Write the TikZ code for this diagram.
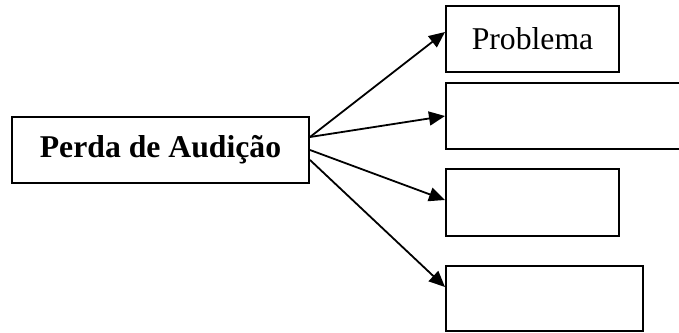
\documentclass[tikz,border=0pt]{standalone}
\usepackage{fontspec}
\setmainfont{Liberation Serif}
\usetikzlibrary{arrows.meta}
\begin{document}
\begin{tikzpicture}[x=1pt,y=-1pt,
  box/.style={draw, rectangle, line width=2pt, inner sep=0pt, font=\fontsize{31.7}{36}\selectfont},
  conn/.style={line width=1.8pt, -{Triangle[length=16pt,width=14pt]}}]
\clip (0,0) rectangle (679,332);
\fill[white] (0,0) rectangle (679,332);
\node[box, minimum width=297pt, minimum height=66pt, font=\fontsize{31.7}{36}\selectfont\bfseries] (main) at (160.5,150) {Perda de Audição};
\node[box, minimum width=173pt, minimum height=66pt] (b1) at (532.5,39) {Problema};
\node[box, minimum width=240pt, minimum height=66pt] (b2) at (566,116) {};
\node[box, minimum width=173pt, minimum height=67pt] (b3) at (532.5,202.5) {};
\node[box, minimum width=197pt, minimum height=65pt] (b4) at (544.5,298.5) {};
\draw[conn] ([yshift=13pt]main.east) -- ([yshift=7pt]b1.west);
\draw[conn] ([yshift=13pt]main.east) -- (b2.west);
\draw[conn] (main.east) -- ([yshift=2.5pt]b3.west);
\draw[conn] ([yshift=-10pt]main.east) -- ([yshift=11.5pt]b4.west);
\end{tikzpicture}
\end{document}
